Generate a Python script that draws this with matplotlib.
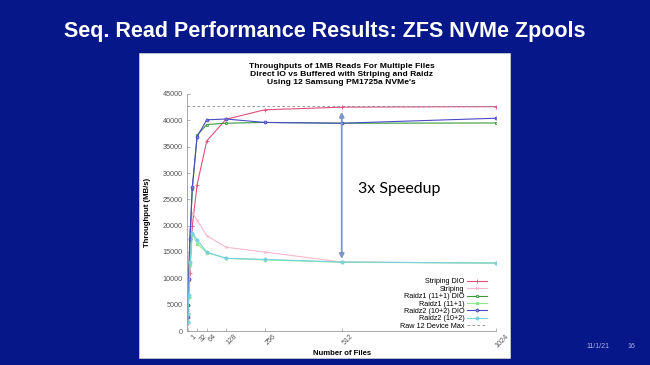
import matplotlib.pyplot as plt
from matplotlib.patches import Rectangle
from matplotlib.transforms import ScaledTranslation

plt.rcParams['font.family'] = ['Liberation Sans', 'DejaVu Sans']

# Number of files read in parallel
files = [1, 2, 4, 8, 16, 32, 64, 128, 256, 512, 1024]

# Throughput in MB/s
striping_dio = [1500, 3500, 6500, 11000, 20000, 27800, 36100, 40200, 42000, 42500, 42600]
striping = [4000, 7000, 12000, 19000, 22500, 21000, 18100, 15900, 15000, 13100, 12900]
raidz1_dio = [2600, 5000, 9700, 17300, 27000, 37200, 39200, 39450, 39600, 39450, 39500]
raidz1 = [1700, 3200, 6500, 12500, 18500, 16600, 14900, 13800, 13500, 13050, 12900]
raidz2_dio = [2700, 4900, 9800, 17400, 27400, 36900, 40100, 40250, 39600, 39450, 40400]
raidz2 = [1800, 3300, 6800, 13100, 18700, 17300, 15000, 13800, 13600, 13100, 12900]
device_max = 42700

xtick_vals = [1, 32, 64, 128, 256, 512, 1024]
ytick_vals = list(range(0, 45001, 5000))

W, H = 650, 365
fig = plt.figure(figsize=(W / 100, H / 100), dpi=100, facecolor='#061789')

# white picture box of the embedded chart (behind the axes)
fig.patches.append(Rectangle((139 / W, 7 / H), 371 / W, 305 / H, transform=fig.transFigure,
                             facecolor='white', edgecolor='#d0d0d0', lw=0.5, zorder=-5))

fig.text(0.5, 1 - 32 / H, 'Seq. Read Performance Results: ZFS NVMe Zpools', ha='center', va='center',
         color='white', fontsize=15.5, fontweight='bold')
fig.text(598 / W, 1 - 346 / H, '11/1/21', ha='center', va='center', color='#aab3e0', fontsize=5)
fig.text(631 / W, 1 - 346 / H, '16', ha='center', va='center', color='#aab3e0', fontsize=5)

ax = fig.add_axes([187.5 / W, 34 / H, 308.5 / W, 237 / H])
ax.set_facecolor('white')

ax.plot(files, striping_dio, color='#e0507a', lw=0.8, marker='+', ms=2.5, mew=0.6, label='Striping DIO')
ax.plot(files, striping, color='#f7b9c9', lw=0.8, marker='x', ms=2, mew=0.5, label='Striping')
ax.plot(files, raidz1_dio, color='#3c9a3c', lw=0.8, marker='s', ms=1.9, mfc='#b8e0b8', mew=0.6,
        label='Raidz1 (11+1) DIO')
ax.plot(files, raidz1, color='#8fe88f', lw=0.8, marker='s', ms=1.6, label='Raidz1 (11+1)')
ax.plot(files, raidz2_dio, color='#4a4ac4', lw=0.8, marker='o', ms=2.1, mfc='#8080d8', mew=0.6,
        label='Raidz2 (10+2) DIO')
ax.plot(files, raidz2, color='#78d2e0', lw=0.8, marker='D', ms=1.6, label='Raidz2 (10+2)')
ax.axhline(device_max, color='#888888', lw=0.6, ls=(0, (3, 3)), label='Raw 12 Device Max')

# speedup arrow and note
ax.annotate('', xy=(512, 41600), xytext=(512, 13700),
            arrowprops=dict(arrowstyle='<|-|>', color='#7a96c8', lw=1.3, mutation_scale=7,
                            shrinkA=0, shrinkB=0))
ax.text(566, 27000, '3x Speedup', fontsize=11.5, family=['Lato', 'DejaVu Sans'], va='center', ha='left')

ax.set_xlim(0, 1024)
ax.set_ylim(0, 45000)
ax.set_xticks(xtick_vals)
ax.set_yticks(ytick_vals)
ax.tick_params(direction='in', length=2, width=0.5, color='#999999', labelcolor='#555555', labelsize=5.2)
ax.tick_params(axis='x', pad=1.5)
for lbl in ax.get_xticklabels():
    lbl.set_rotation(45)
    lbl.set_ha('center')
    lbl.set_transform(lbl.get_transform() + ScaledTranslation(6 / 100, 0, fig.dpi_scale_trans))

for side in ['top', 'right']:
    ax.spines[side].set_visible(False)
for side in ['left', 'bottom']:
    ax.spines[side].set_color('#999999')
    ax.spines[side].set_linewidth(0.6)

ax.set_title('Throughputs of 1MB Reads For Multiple Files\nDirect IO vs Buffered with Striping and Raidz\n'
             "Using 12 Samsung PM1725a NVMe's", fontsize=6.1, fontweight='bold', linespacing=1.2, pad=7)
ax.set_ylabel('Throughput (MB/s)', fontsize=5.6, fontweight='bold')
ax.yaxis.set_label_coords((151 - 187.5) / 308.5, 0.5)
ax.set_xlabel('Number of Files', fontsize=5.6, fontweight='bold')
ax.xaxis.set_label_coords(0.5, -(350 - 331) / 237)

ax.legend(loc='lower right', bbox_to_anchor=(0.972, 0.005), frameon=False, markerfirst=False,
          fontsize=5.2, handlelength=2.8, handletextpad=0.4, labelspacing=0.05, borderpad=0,
          borderaxespad=0)

fig.savefig('out.png', dpi=100, facecolor=fig.get_facecolor())
